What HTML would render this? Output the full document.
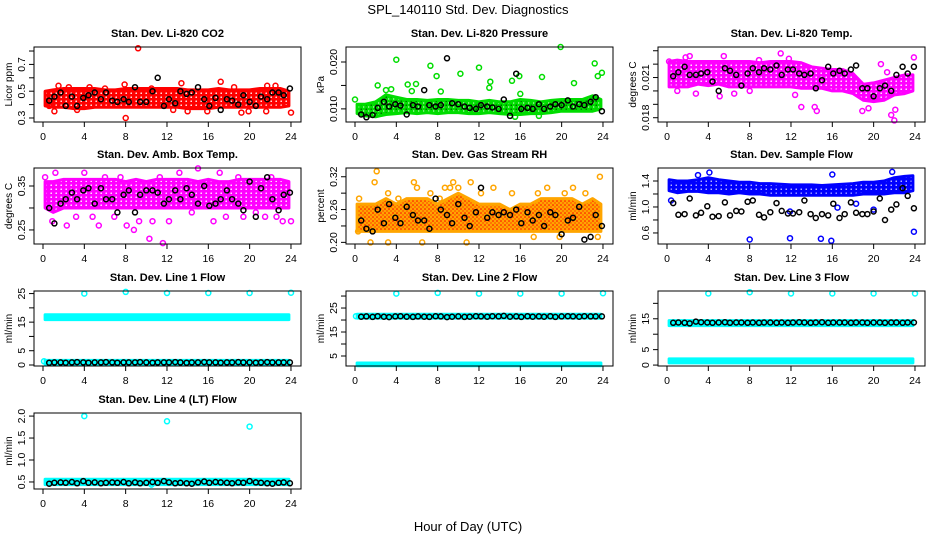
<!DOCTYPE html>
<html><head><meta charset="utf-8"><style>
html,body{margin:0;padding:0;background:#fff;}
svg{display:block;font-family:"Liberation Sans",Arial,sans-serif;}
</style></head><body>
<svg id="fig" width="936" height="540" viewBox="0 0 936 540">
<defs>
<pattern id="pt-red" width="5" height="4" patternUnits="userSpaceOnUse"><rect width="5" height="4" fill="#ff0000"/><circle cx="1.2" cy="1.2" r="0.8" fill="#fff"/></pattern>
<pattern id="pt-green" width="5" height="4" patternUnits="userSpaceOnUse"><rect width="5" height="4" fill="#00dd00"/><circle cx="1.2" cy="1.2" r="0.7" fill="#000" opacity="0.7"/><circle cx="3.7" cy="3" r="0.6" fill="#fff"/></pattern>
<pattern id="pt-magenta" width="5" height="4" patternUnits="userSpaceOnUse"><rect width="5" height="4" fill="#ff00ff"/><circle cx="1.2" cy="1.2" r="0.8" fill="#fff"/></pattern>
<pattern id="pt-orange" width="4" height="4" patternUnits="userSpaceOnUse"><rect width="4" height="4" fill="#ffa500"/><circle cx="1" cy="1" r="0.8" fill="#ff0000"/><circle cx="3" cy="3" r="0.6" fill="#ff0000"/></pattern>
<pattern id="pt-blue" width="5" height="4" patternUnits="userSpaceOnUse"><rect width="5" height="4" fill="#0000ff"/><circle cx="1.2" cy="1.2" r="0.7" fill="#fff"/></pattern>
<pattern id="pt-cyan" width="5" height="4" patternUnits="userSpaceOnUse"><rect width="5" height="4" fill="#00ffff"/></pattern>
</defs>
<text x="468" y="14" text-anchor="middle" font-size="13">SPL_140110  Std. Dev. Diagnostics</text>
<text x="468" y="531" text-anchor="middle" font-size="13">Hour of Day (UTC)</text>
</svg>
<script>
const xTicks=[0,4,8,12,16,20,24];
const panelTitles=["Stan. Dev. Li-820 CO2","Stan. Dev. Li-820 Pressure","Stan. Dev. Li-820 Temp.","Stan. Dev. Amb. Box Temp.","Stan. Dev. Gas Stream RH","Stan. Dev. Sample Flow","Stan. Dev. Line 1 Flow","Stan. Dev. Line 2 Flow","Stan. Dev. Line 3 Flow","Stan. Dev. Line 4 (LT) Flow"];
const yTitles=["Licor ppm","kPa","degrees C","degrees C","percent","ml/min","ml/min","ml/min","ml/min","ml/min"];
const yRanges=[[0.27,0.83],[0.0072,0.0232],[0.01768,0.02328],[0.218,0.391],[0.197,0.336],[0.43,1.6],[-0.35,25.9],[0.83,32.1],[-0.3,24],[0.34,2.07]];
const yTickVals=[[0.3,0.4,0.5,0.6,0.7,0.8],[0.010,0.015,0.020],[0.018,0.019,0.020,0.021,0.022,0.023],[0.25,0.30,0.35],[0.20,0.23,0.26,0.29,0.32],[0.6,0.8,1.0,1.2,1.4],[0,5,10,15,20,25],[5,10,15,20,25,30],[0,5,10,15,20],[0.5,1.0,1.5,2.0]];
const yTickLabels=[["0.3","","0.5","","0.7",""],["0.010","","0.020"],["0.018","","","0.021","",""],["0.25","","0.35"],["0.20","","0.26","","0.32"],["0.6","","1.0","","1.4"],["0","5","","15","","25"],["5","","15","","25",""],["0","5","","15",""],["0.5","1.0","1.5","2.0"]];
const bandHours=[0,1,2,3,4,5,6,7,8,9,10,11,12,13,14,15,16,17,18,19,20,21,22,23,24];
const bandLo=[
[[0.39,0.38,0.38,0.37,0.37,0.38,0.38,0.38,0.38,0.38,0.38,0.38,0.38,0.38,0.37,0.37,0.37,0.38,0.38,0.38,0.38,0.38,0.38,0.38,0.39]],
[[0.0090,0.0085,0.0083,0.0088,0.0090,0.0092,0.0090,0.0092,0.0090,0.0092,0.0092,0.0090,0.0090,0.0092,0.0090,0.0088,0.0088,0.0090,0.0090,0.0092,0.0095,0.0095,0.0095,0.0095,0.0100]],
[[0.0203,0.0203,0.0203,0.0205,0.0204,0.0205,0.0203,0.0203,0.0203,0.0203,0.0203,0.0203,0.0203,0.0202,0.0202,0.0202,0.0200,0.0200,0.0198,0.0193,0.0192,0.0193,0.0197,0.0198,0.0200]],
[[0.30,0.29,0.30,0.30,0.30,0.30,0.30,0.30,0.30,0.30,0.30,0.30,0.30,0.30,0.30,0.30,0.30,0.30,0.30,0.30,0.30,0.30,0.30,0.30,0.30]],
[[0.22,0.22,0.22,0.22,0.22,0.22,0.22,0.22,0.22,0.22,0.22,0.22,0.22,0.22,0.22,0.22,0.22,0.22,0.22,0.22,0.22,0.22,0.22,0.22,0.22]],
[[1.25,1.22,1.24,1.24,1.22,1.22,1.20,1.22,1.20,1.20,1.18,1.18,1.18,1.18,1.18,1.18,1.18,1.18,1.18,1.20,1.20,1.20,1.22,1.22,1.25]],
[[15.9,15.9,15.9,15.9,15.9,15.9,15.9,15.9,15.9,15.9,15.9,15.9,15.9,15.9,15.9,15.9,15.9,15.9,15.9,15.9,15.9,15.9,15.9,15.9,15.9],[0.3,0.3,0.3,0.3,0.3,0.3,0.3,0.3,0.3,0.3,0.3,0.3,0.3,0.3,0.3,0.3,0.3,0.3,0.3,0.3,0.3,0.3,0.3,0.3,0.3]],
[[20.8,20.8,20.8,20.8,20.8,20.8,20.8,20.8,20.8,20.8,20.8,20.8,20.8,20.8,20.8,20.8,20.8,20.8,20.8,20.8,20.8,20.8,20.8,20.8,20.8],[0.9,0.9,0.9,0.9,0.9,0.9,0.9,0.9,0.9,0.9,0.9,0.9,0.9,0.9,0.9,0.9,0.9,0.9,0.9,0.9,0.9,0.9,0.9,0.9,0.9]],
[[12.8,12.8,12.8,12.8,12.8,12.8,12.8,12.8,12.8,12.8,12.8,12.8,12.8,12.8,12.8,12.8,12.8,12.8,12.8,12.8,12.8,12.8,12.8,12.8,12.8],[0.7,0.7,0.7,0.7,0.7,0.7,0.7,0.7,0.7,0.7,0.7,0.7,0.7,0.7,0.7,0.7,0.7,0.7,0.7,0.7,0.7,0.7,0.7,0.7,0.7]],
[[0.44,0.44,0.44,0.44,0.44,0.44,0.44,0.44,0.44,0.44,0.44,0.44,0.44,0.44,0.44,0.44,0.44,0.44,0.44,0.44,0.44,0.44,0.44,0.44,0.44]]];
const bandHi=[
[[0.50,0.51,0.52,0.52,0.52,0.52,0.51,0.51,0.52,0.52,0.52,0.52,0.52,0.52,0.51,0.51,0.51,0.52,0.51,0.51,0.51,0.52,0.52,0.52,0.50]],
[[0.0110,0.0110,0.0115,0.0130,0.0125,0.0120,0.0120,0.0118,0.0120,0.0120,0.0118,0.0118,0.0115,0.0118,0.0115,0.0115,0.0120,0.0118,0.0115,0.0118,0.0120,0.0120,0.0120,0.0128,0.0120]],
[[0.0222,0.0223,0.0222,0.0222,0.0222,0.0222,0.0222,0.0222,0.0222,0.0221,0.0222,0.0222,0.0222,0.0221,0.0218,0.0217,0.0216,0.0216,0.0213,0.0205,0.0206,0.0208,0.0210,0.0212,0.0212]],
[[0.360,0.360,0.365,0.365,0.365,0.365,0.365,0.365,0.360,0.365,0.360,0.365,0.365,0.365,0.365,0.360,0.365,0.360,0.360,0.365,0.365,0.365,0.365,0.365,0.360]],
[[0.27,0.27,0.27,0.28,0.27,0.28,0.28,0.28,0.27,0.28,0.29,0.28,0.27,0.27,0.27,0.26,0.27,0.27,0.28,0.28,0.28,0.28,0.27,0.28,0.27]],
[[1.42,1.40,1.40,1.42,1.45,1.42,1.40,1.38,1.38,1.36,1.36,1.35,1.34,1.34,1.34,1.33,1.34,1.35,1.36,1.38,1.38,1.40,1.45,1.47,1.48]],
[[17.6,17.6,17.6,17.6,17.6,17.6,17.6,17.6,17.6,17.6,17.6,17.6,17.6,17.6,17.6,17.6,17.6,17.6,17.6,17.6,17.6,17.6,17.6,17.6,17.6],[1.6,1.6,1.6,1.6,1.6,1.6,1.6,1.6,1.6,1.6,1.6,1.6,1.6,1.6,1.6,1.6,1.6,1.6,1.6,1.6,1.6,1.6,1.6,1.6,1.6]],
[[22.4,22.4,22.4,22.4,22.4,22.4,22.4,22.4,22.4,22.4,22.4,22.4,22.4,22.4,22.4,22.4,22.4,22.4,22.4,22.4,22.4,22.4,22.4,22.4,22.4],[2.1,2.1,2.1,2.1,2.1,2.1,2.1,2.1,2.1,2.1,2.1,2.1,2.1,2.1,2.1,2.1,2.1,2.1,2.1,2.1,2.1,2.1,2.1,2.1,2.1]],
[[14.4,14.4,14.4,14.4,14.4,14.4,14.4,14.4,14.4,14.4,14.4,14.4,14.4,14.4,14.4,14.4,14.4,14.4,14.4,14.4,14.4,14.4,14.4,14.4,14.4],[2.0,2.0,2.0,2.0,2.0,2.0,2.0,2.0,2.0,2.0,2.0,2.0,2.0,2.0,2.0,2.0,2.0,2.0,2.0,2.0,2.0,2.0,2.0,2.0,2.0]],
[[0.56,0.56,0.56,0.56,0.56,0.56,0.56,0.56,0.56,0.56,0.56,0.56,0.56,0.56,0.56,0.56,0.56,0.56,0.56,0.56,0.56,0.56,0.56,0.56,0.56]]];
const bandPatterns=["pt-red","pt-green","pt-magenta","pt-magenta","pt-orange","pt-blue","pt-cyan","pt-cyan","pt-cyan","pt-cyan"];
const pointColors=["#ff0000","#00dd00","#ff00ff","#ff00ff","#ffa500","#0000ff","#00ffff","#00ffff","#00ffff","#00ffff"];
const outX=[
[1.1,1.5,3.3,4.5,7.9,8.0,9.2,13.4,14.0,15.9,17.2,19.2,19.9,21.6,21.7,24.0,0.6,12.6,2.5,6.0,10.5,18.5,22.5],
[0.0,2.2,3.0,3.5,4.0,5.1,5.5,5.9,7.3,7.9,8.3,10.2,12.0,13.0,13.1,15.2,15.9,16.0,17.8,18.1,19.9,21.2,23.2,23.5,23.9,15.5],
[0.2,1.0,1.8,2.2,2.8,5.1,5.5,6.5,8.0,8.9,11.0,11.8,12.4,13.0,14.3,14.5,18.9,19.5,20.7,21.3,21.7,22.1,23.9,22.0],
[0.2,0.9,1.2,2.3,3.2,4.0,4.8,5.4,6.0,6.9,7.5,8.1,8.8,9.3,10.3,11.3,11.6,12.2,13.2,14.4,15.0,16.5,17.1,17.7,18.9,19.4,20.6,21.5,22.6,23.2,24.0,22.1,10.6],
[0.4,1.9,2.1,3.2,4.2,5.7,6.0,7.3,8.2,8.7,9.2,9.5,10.0,11.2,12.2,13.4,15.2,17.7,18.6,20.3,21.1,22.3,23.7,1.5,3.2,6.5,10.8,17.3,19.8,23.5,0.3],
[0.4,4.1,3.0,8.0,11.9,14.9,15.9,16.0,16.5,11.9,20.0,23.9,21.8,18.3],
[4,8,12,16,20,24,0.1],
[4,8,12,16,20,24,0.1],
[4,8,12,16,20,24],
[4,12,20,10.5]];
const outY=[
[0.35,0.54,0.36,0.53,0.55,0.30,0.82,0.56,0.35,0.35,0.57,0.34,0.35,0.35,0.54,0.34,0.39,0.36,0.53,0.52,0.52,0.53,0.54],
[0.0120,0.0150,0.0140,0.0142,0.0205,0.0152,0.0138,0.0153,0.0192,0.0170,0.0137,0.0175,0.0188,0.0145,0.0158,0.0160,0.0170,0.0132,0.0085,0.0168,0.0232,0.0155,0.0197,0.0170,0.0177,0.0083],
[0.0222,0.0200,0.0225,0.0226,0.0198,0.0196,0.0226,0.0198,0.0200,0.0223,0.0228,0.0224,0.0197,0.0188,0.0188,0.0185,0.0185,0.0187,0.0220,0.0214,0.0182,0.0186,0.0225,0.0178],
[0.37,0.27,0.38,0.26,0.28,0.38,0.28,0.26,0.37,0.28,0.37,0.26,0.25,0.27,0.23,0.37,0.22,0.27,0.38,0.29,0.39,0.27,0.38,0.28,0.37,0.28,0.29,0.28,0.28,0.27,0.27,0.37,0.27],
[0.28,0.31,0.33,0.29,0.28,0.31,0.30,0.29,0.28,0.30,0.30,0.31,0.30,0.31,0.29,0.30,0.29,0.29,0.30,0.29,0.30,0.29,0.32,0.20,0.20,0.20,0.20,0.21,0.21,0.21,0.22],
[1.10,1.53,1.49,0.50,0.52,0.51,0.48,1.50,0.99,0.93,0.96,0.62,1.54,1.05],
[25,25.6,25.2,25.2,25.2,25.3,1.3],
[31,31.3,31,31,31,31.2,21.6],
[23.2,23.6,23.2,23.2,23.2,23.2],
[2.0,1.88,1.76,0.44]];
const blackHours=[0.6,1.1,1.7,2.2,2.8,3.3,3.9,4.4,5.0,5.6,6.1,6.7,7.2,7.8,8.3,8.9,9.4,10.0,10.6,11.1,11.7,12.2,12.8,13.3,13.9,14.4,15.0,15.6,16.1,16.7,17.2,17.8,18.3,18.9,19.4,20.0,20.6,21.1,21.7,22.2,22.8,23.3,23.9];
const blackY=[
[0.43,0.46,0.49,0.39,0.46,0.39,0.45,0.47,0.49,0.44,0.49,0.43,0.42,0.44,0.42,0.53,0.42,0.42,0.50,0.60,0.39,0.44,0.41,0.50,0.48,0.49,0.53,0.44,0.39,0.45,0.36,0.44,0.43,0.40,0.47,0.42,0.39,0.46,0.44,0.49,0.49,0.47,0.52],
[0.0088,0.0082,0.0087,0.0102,0.0115,0.0105,0.0110,0.0107,0.0088,0.0108,0.0105,0.0140,0.0108,0.0105,0.0108,0.0208,0.0112,0.0110,0.0105,0.0102,0.0100,0.0108,0.0105,0.0103,0.0100,0.0120,0.0085,0.0175,0.0100,0.0102,0.0100,0.0110,0.0100,0.0105,0.0110,0.0108,0.0118,0.0105,0.0110,0.0108,0.0115,0.0125,0.0095],
[0.0211,0.0214,0.0218,0.0212,0.0212,0.0213,0.0214,0.0207,0.0200,0.0217,0.0215,0.0212,0.0204,0.0213,0.0217,0.0214,0.0217,0.0216,0.0219,0.0212,0.0216,0.0216,0.0213,0.0212,0.0213,0.0202,0.0208,0.0218,0.0213,0.0215,0.0213,0.0216,0.0219,0.0202,0.0202,0.0196,0.0202,0.0204,0.0200,0.0212,0.0218,0.0213,0.0218],
[0.30,0.265,0.31,0.32,0.335,0.32,0.34,0.345,0.31,0.345,0.32,0.32,0.29,0.33,0.34,0.29,0.33,0.34,0.34,0.335,0.31,0.32,0.34,0.32,0.345,0.33,0.31,0.35,0.305,0.31,0.32,0.34,0.32,0.31,0.295,0.36,0.28,0.345,0.37,0.32,0.295,0.33,0.335],
[0.24,0.225,0.22,0.26,0.235,0.27,0.245,0.235,0.265,0.25,0.24,0.24,0.225,0.28,0.26,0.25,0.235,0.27,0.245,0.23,0.255,0.30,0.245,0.255,0.25,0.255,0.25,0.26,0.235,0.255,0.24,0.25,0.23,0.255,0.25,0.215,0.24,0.245,0.265,0.205,0.21,0.25,0.23],
[1.06,0.88,0.89,1.13,0.87,0.91,1.01,0.85,0.86,1.07,0.87,0.94,0.93,1.08,1.10,0.88,0.84,0.92,1.06,0.94,0.90,0.90,0.92,1.10,0.89,0.83,0.89,0.87,1.05,0.83,0.89,1.07,0.91,0.89,0.89,0.93,1.13,0.80,0.96,1.04,1.29,1.17,0.98],
[0.8,0.9,0.9,0.8,0.9,1.0,0.9,0.8,0.9,0.9,1.0,0.9,0.8,0.9,0.9,0.9,1.0,0.9,0.8,0.9,0.9,0.9,1.0,0.9,0.8,0.9,0.9,1.0,0.9,0.9,0.8,0.9,0.9,1.0,0.9,0.9,0.8,0.9,1.0,0.9,0.9,0.9,0.9],
[21.4,21.5,21.3,21.6,21.4,21.2,21.5,21.6,21.4,21.3,21.5,21.4,21.3,21.6,21.5,21.2,21.4,21.5,21.3,21.4,21.6,21.5,21.4,21.6,21.5,21.7,21.4,21.5,21.3,21.6,21.4,21.5,21.4,21.6,21.3,21.5,21.6,21.5,21.4,21.6,21.5,21.5,21.5],
[13.7,13.8,13.7,13.5,14.1,13.9,13.8,13.7,13.8,13.9,13.7,13.8,13.8,13.7,13.8,13.7,13.8,13.8,13.7,13.8,13.7,13.8,13.9,13.8,13.7,13.8,13.9,13.7,13.8,13.8,13.8,13.7,13.8,13.8,13.7,13.8,13.8,13.7,13.8,13.8,13.7,13.8,13.8],
[0.46,0.48,0.49,0.48,0.50,0.47,0.52,0.48,0.49,0.47,0.48,0.49,0.48,0.50,0.47,0.49,0.47,0.48,0.50,0.48,0.52,0.49,0.47,0.48,0.47,0.46,0.49,0.51,0.48,0.50,0.49,0.48,0.47,0.49,0.48,0.52,0.49,0.48,0.47,0.46,0.48,0.49,0.47]];

const NS="http://www.w3.org/2000/svg";
const svg=document.getElementById('fig');
const boxTops=[47,168,291,413],boxBots=[122,244,366,489];
const XMIN=-0.87,XMAX=24.97;
function mk(tag,attrs,parent){const e=document.createElementNS(NS,tag);for(const k in attrs)e.setAttribute(k,attrs[k]);parent.appendChild(e);return e;}
function ring(g,x,y,color){return mk('circle',{cx:x.toFixed(1),cy:y.toFixed(1),r:2.5,fill:'none',stroke:color,'stroke-width':1.5},g);}
for(let p=0;p<10;p++){
  const col=p%3,row=Math.floor(p/3);
  const L=col*312+34,R=col*312+301,T=boxTops[row],B=boxBots[row];
  const [y0,y1]=yRanges[p];
  const sx=v=>L+(v-XMIN)/(XMAX-XMIN)*(R-L);
  const sy=v=>B-(v-y0)/(y1-y0)*(B-T);
  const g=mk('g',{},svg);
  
  
  const t=mk('text',{x:(L+R)/2,y:T-10,'text-anchor':'middle','font-size':11,'font-weight':'bold'},g);
  t.textContent=panelTitles[p];
  
  
  for(let b=0;b<bandLo[p].length;b++){
    let d='';
    bandHours.forEach((h,i)=>{const hh=Math.min(Math.max(h,0.2),23.8);d+=(i?'L':'M')+sx(hh).toFixed(1)+','+sy(bandHi[p][b][i]).toFixed(1);});
    for(let i=bandHours.length-1;i>=0;i--){const hh=Math.min(Math.max(bandHours[i],0.2),23.8);d+='L'+sx(hh).toFixed(1)+','+sy(bandLo[p][b][i]).toFixed(1);}
    const band=mk('path',{d:d+'Z',fill:'url(#'+bandPatterns[p]+')',stroke:pointColors[p],'stroke-width':3,'stroke-linejoin':'round'},g);
    
    
  }
  outX[p].forEach((h,i)=>{const c=ring(g,sx(h),sy(outY[p][i]),pointColors[p]);
    
    });
  blackHours.forEach((h,i)=>{const c=ring(g,sx(h),sy(blackY[p][i]),'#000');
    
    });
  const box=mk('rect',{x:L,y:T,width:R-L,height:B-T,fill:'none',stroke:'#000','stroke-width':1},g);
  
  
  xTicks.forEach(v=>{const x=sx(v);mk('line',{x1:x,x2:x,y1:B,y2:B+5,stroke:'#000'},g);
    const tl=mk('text',{x:x,y:B+18,'text-anchor':'middle','font-size':10.5},g);tl.textContent=v;
    
    });
  yTickVals[p].forEach((v,i)=>{const y=sy(v);mk('line',{x1:L-5,x2:L,y1:y,y2:y,stroke:'#000'},g);
    if(yTickLabels[p][i]){const tl=mk('text',{x:0,y:0,'text-anchor':'middle','font-size':10.5,transform:'translate('+(L-9)+','+y.toFixed(1)+') rotate(-90)'},g);tl.textContent=yTickLabels[p][i];
    
    }});
  const yt=mk('text',{x:0,y:0,'text-anchor':'middle','font-size':10,transform:'translate('+(L-22)+','+((T+B)/2)+') rotate(-90)'},g);
  yt.textContent=yTitles[p];
  
  
}
</script>
</body></html>
